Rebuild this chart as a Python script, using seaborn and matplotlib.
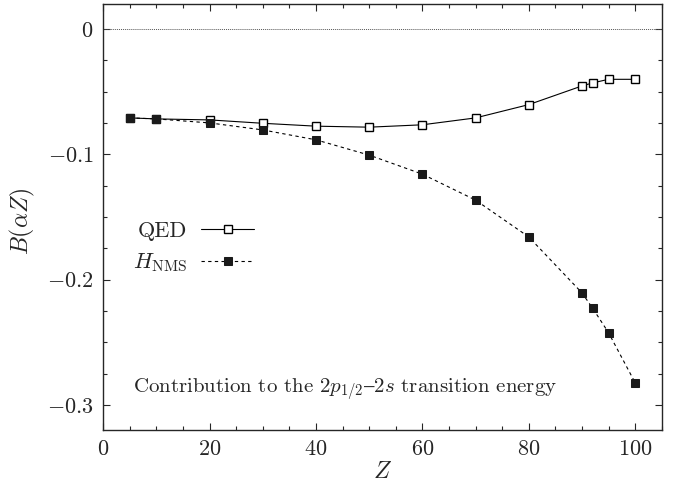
import numpy as np
import pandas as pd
import matplotlib
matplotlib.use("Agg")
import matplotlib.pyplot as plt
import seaborn as sns
from matplotlib.ticker import MultipleLocator

Z = [5, 10, 20, 30, 40, 50, 60, 70, 80, 90, 92, 95, 100]
qed = [-0.0709, -0.0717, -0.0725, -0.0752, -0.0775, -0.0783, -0.0764,
       -0.0709, -0.0603, -0.0454, -0.0430, -0.0401, -0.0401]
nms = [-0.0709, -0.0717, -0.0749, -0.0805, -0.0884, -0.1006, -0.1158,
       -0.1365, -0.1659, -0.2105, -0.2227, -0.2423, -0.2822]
xticks = [0, 20, 40, 60, 80, 100]
yticks = [0, -0.1, -0.2, -0.3]
ytick_labels = ["$0$", "$-0.1$", "$-0.2$", "$-0.3$"]
xtick_labels = ["$0$", "$20$", "$40$", "$60$", "$80$", "$100$"]

sns.set_style("ticks")
plt.rcParams["mathtext.fontset"] = "cm"
plt.rcParams["font.family"] = ["cmr10", "DejaVu Serif"]
plt.rcParams["axes.formatter.use_mathtext"] = True
plt.rcParams["font.size"] = 15

fig = plt.figure(figsize=(6.77, 4.83), dpi=100)
ax = fig.add_axes([0.1526, 0.1097, 0.9774 - 0.1526, 0.9917 - 0.1097])

df = pd.DataFrame({"Z": Z, "qed": qed, "nms": nms})

ax.axhline(0, color="#555555", lw=0.7, ls=(0, (1, 1)))

sns.lineplot(data=df, x="Z", y="qed", ax=ax, color="black", lw=0.8,
             marker="s", markersize=5.8, markerfacecolor="white",
             markeredgecolor="black", markeredgewidth=1.0, label="QED")
sns.lineplot(data=df, x="Z", y="nms", ax=ax, color="black", lw=0.8,
             linestyle=(0, (3, 3)), marker="s", markersize=5.8,
             markerfacecolor="#1a1a1a", markeredgecolor="#1a1a1a",
             label=r"$H_{\mathrm{NMS}}$")

ax.set_xlim(0, 105)
ax.set_ylim(-0.32, 0.02)
ax.set_xticks(xticks)
ax.set_xticklabels(xtick_labels)
ax.set_yticks(yticks)
ax.set_yticklabels(ytick_labels)
ax.xaxis.set_minor_locator(MultipleLocator(5))
ax.yaxis.set_minor_locator(MultipleLocator(0.025))
ax.tick_params(which="both", direction="in", top=True, right=True,
               labelsize=16, width=0.8)
ax.tick_params(which="major", length=5, pad=7)
ax.tick_params(which="minor", length=3)
for s in ax.spines.values():
    s.set_linewidth(1.0)

ax.set_xlabel("$Z$", fontsize=17)
ax.set_ylabel(r"$B(\alpha Z)$", fontsize=17)
ax.yaxis.set_label_coords(-0.118, 0.49)
ax.xaxis.set_label_coords(0.5, -0.072)

ax.text(5.6, -0.288,
        "Contribution to the $2p_{1/2}$" + "$\u2013$" + "$2s$ transition energy",
        fontsize=15, va="center", ha="left")

leg = ax.legend(loc="center right", bbox_to_anchor=(0.306, 0.428),
                frameon=False, markerfirst=False, handlelength=2.4,
                fontsize=16, labelspacing=0.5, handletextpad=0.6)

fig.savefig("out.png", dpi=100)
